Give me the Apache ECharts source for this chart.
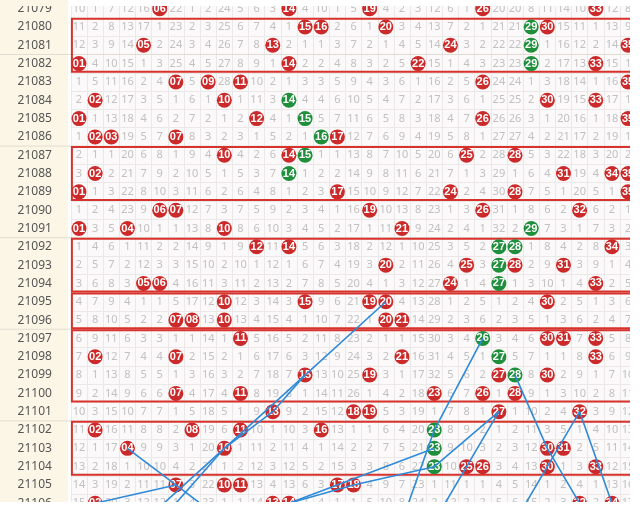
<!DOCTYPE html>
<html><head><meta charset="utf-8">
<script src="https://cdn.jsdelivr.net/npm/echarts@6/dist/echarts.min.js"></script>
<style>html,body{margin:0;padding:0;background:#fff}#c{width:640px;height:513px}</style>
</head><body><div id="c"></div>
<script>
// column labels (numbers 01-35)
const numbers = ['01','02','03','04','05','06','07','08','09','10','11','12','13','14','15','16','17','18','19','20','21','22','23','24','25','26','27','28','29','30','31','32','33','34','35'];
// issue labels (rows)
const issues = ['21079','21080','21081','21082','21083','21084','21085','21086','21087','21088','21089','21090','21091','21092','21093','21094','21095','21096','21097','21098','21099','21100','21101','21102','21103','21104','21105','21106','21107'];
// omission values of the first (partly cut) row, 0 = drawn
const firstRowMiss = [10,1,7,12,16,0,22,1,2,24,5,6,3,0,4,10,1,5,0,4,2,3,12,6,1,0,20,20,8,11,14,10,0,12,8];
// red balls per issue
const redHits = [
 [6,14,19,26,33],[15,16,20,30],[5,13,24,35],[1,14,22,33],[7,9,11,26,35],
 [2,10,30,33],[1,12,26,35],[2,3,7,17],[10,14,25,28],[2,31,34,35],
 [1,17,24,28,35],[6,7,19,26,32],[1,4,10,21],[12,14,34],[20,25,28,31],
 [5,6,24,33],[10,15,19,20,30],[7,8,10,20,21],[11,30,31,33],[2,7,21,33],
 [15,19,27,30],[7,11,23,26,28],[13,18,19,27,32],[2,8,11,16],[4,10,30,31],
 [25,26,30,33],[7,10,11,17,18],[2,13,14,32,34]
];
// green balls per issue
const greenHits = [
 [],[29],[29],[29],[],
 [14],[15],[16],[15],[14],
 [],[],[29],[27,28],[27],
 [27],[],[],[26],[27],
 [28],[],[],[23],[23],
 [23],[],[]
];
// boxed groups of issues
const boxGroups = [['21080','21082'],['21087','21089'],['21092','21094'],['21095','21096'],['21097','21100'],['21102','21104']];
// separator lines under these issues
const separatorIssues = ['21081','21086','21091','21096','21101','21106'];
// hand-drawn trend lines: [number, issue]
const trendLines = [
 [[20,'21095'],[15,'21099'],[13,'21101'],[10,'21103'],[5,'21107']],
 [[15,'21099'],[10,'21103'],[6,'21107']],
 [[4,'21103'],[7,'21105'],[10,'21107']],
 [[7,'21105'],[2,'21106']],
 [[14,'21106'],[18,'21105'],[23,'21104'],[27,'21101']],
 [[23,'21103'],[14,'21106']],
 [[26,'21097'],[23,'21102'],[21,'21107']],
 [[27,'21101'],[25,'21104'],[23,'21107']],
 [[28,'21099'],[30,'21103'],[32,'21106']],
 [[32,'21101'],[30,'21104'],[28,'21107']],
 [[32,'21101'],[34,'21106']]
];

// build omission table from draws
const textData = [], redData = [], greenData = [];
let prev = null;
for (let r = 0; r < redHits.length; r++) {
  const hit = new Set([...redHits[r], ...greenHits[r]]);
  const cur = [];
  for (let c = 0; c < numbers.length; c++) {
    let v;
    if (hit.has(c + 1)) v = 0;
    else if (r === 0) v = firstRowMiss[c];
    else v = prev[c] === 0 ? 1 : prev[c] + 1;
    cur.push(v);
    if (v > 0) textData.push([c, r, v]);
  }
  redHits[r].forEach(n => redData.push([n - 1, r]));
  greenHits[r].forEach(n => greenData.push([n - 1, r]));
  prev = cur;
}

const chart = echarts.init(document.getElementById('c'));
const ballLabel = {show:true, position:'inside', color:'#fff', fontWeight:'bold', fontSize:11,
  fontFamily:'Liberation Sans', formatter: p => numbers[p.value[0]]};

const series = [
  {type:'custom', z:2, silent:true, data:textData,
   renderItem:(params, api) => {
     const p = api.coord([api.value(0), api.value(1)]);
     return {type:'text', x:p[0], y:p[1], style:{text:String(api.value(2)), fill:'#c2c0c0',
       font:'11px "Noto Sans"', align:'center', verticalAlign:'middle'}};
   }},
  {type:'custom', z:1, silent:true, data:separatorIssues.map(s => [issues.indexOf(s)]),
   renderItem:(params, api) => {
     const p = api.coord([0, api.value(0)]);
     const h = api.size([0,1])[1];
     const cs = params.coordSys;
     return {type:'line', shape:{x1:0, y1:p[1]+h/2, x2:cs.x+cs.width, y2:p[1]+h/2},
       style:{stroke:'#e2dcd2', lineWidth:1}};
   }},
  {type:'custom', z:3, silent:true, data:boxGroups.map(g => [issues.indexOf(g[0]), issues.indexOf(g[1])]),
   renderItem:(params, api) => {
     const a = api.coord([0, api.value(0)]);
     const b = api.coord([0, api.value(1)]);
     const h = api.size([0,1])[1];
     const cs = params.coordSys;
     return {type:'rect', shape:{x:cs.x+1, y:a[1]-h/2+1, width:cs.width+20, height:b[1]-a[1]+h-2},
       style:{fill:'rgba(0,0,0,0)', stroke:'#d7322c', lineWidth:2}};
   }},
  {type:'scatter', z:4, silent:true, symbolSize:15, data:redData, itemStyle:{color:'#cc2a2a', opacity:1}, label:ballLabel},
  {type:'scatter', z:4, silent:true, symbolSize:15, data:greenData, itemStyle:{color:'#1f8f3c', opacity:1}, label:ballLabel}
];
trendLines.forEach(line => {
  series.push({type:'line', z:6, silent:true, symbol:'none', clip:false,
    lineStyle:{color:'#2f8ad8', width:1.6},
    data: line.map(pt => [pt[0]-1, issues.indexOf(pt[1])])});
});

chart.setOption({
  animation:false,
  backgroundColor:'#ffffff',
  grid:{left:70.9, top:-0.5, width:565.25, height:531.28, outerBoundsMode:'none', containLabel:false,
    show:true, backgroundColor:'#fbf9f9', borderWidth:0},
  xAxis:{type:'category', data:numbers, boundaryGap:true, axisLine:{show:false}, axisTick:{show:false},
    axisLabel:{show:false, interval:0}, splitLine:{show:true, interval:0, lineStyle:{color:'#ece8e8', width:1}}},
  yAxis:{type:'category', data:issues, inverse:true, boundaryGap:true, axisLine:{show:false}, axisTick:{show:false},
    axisLabel:{interval:0, margin:19, color:'#555', fontSize:12, fontFamily:'Noto Sans'},
    splitLine:{show:true, interval:0, lineStyle:{color:'#ece8e8', width:1}}},
  graphic:[
    {type:'rect', z:-10, silent:true, shape:{x:0, y:0, width:68, height:513}, style:{fill:'#fcf6e6'}},
    {type:'rect', z:100, silent:true, shape:{x:0, y:0, width:68, height:6}, style:{fill:'#fcf6e6'}},
    {type:'rect', z:100, silent:true, shape:{x:68, y:0, width:572, height:6}, style:{fill:'#ffffff'}},
    {type:'rect', z:100, silent:true, shape:{x:630, y:0, width:10, height:513}, style:{fill:'#ffffff'}},
    {type:'rect', z:100, silent:true, shape:{x:0, y:502, width:640, height:11}, style:{fill:'#ffffff'}}
  ],
  series: series
});
</script></body></html>
